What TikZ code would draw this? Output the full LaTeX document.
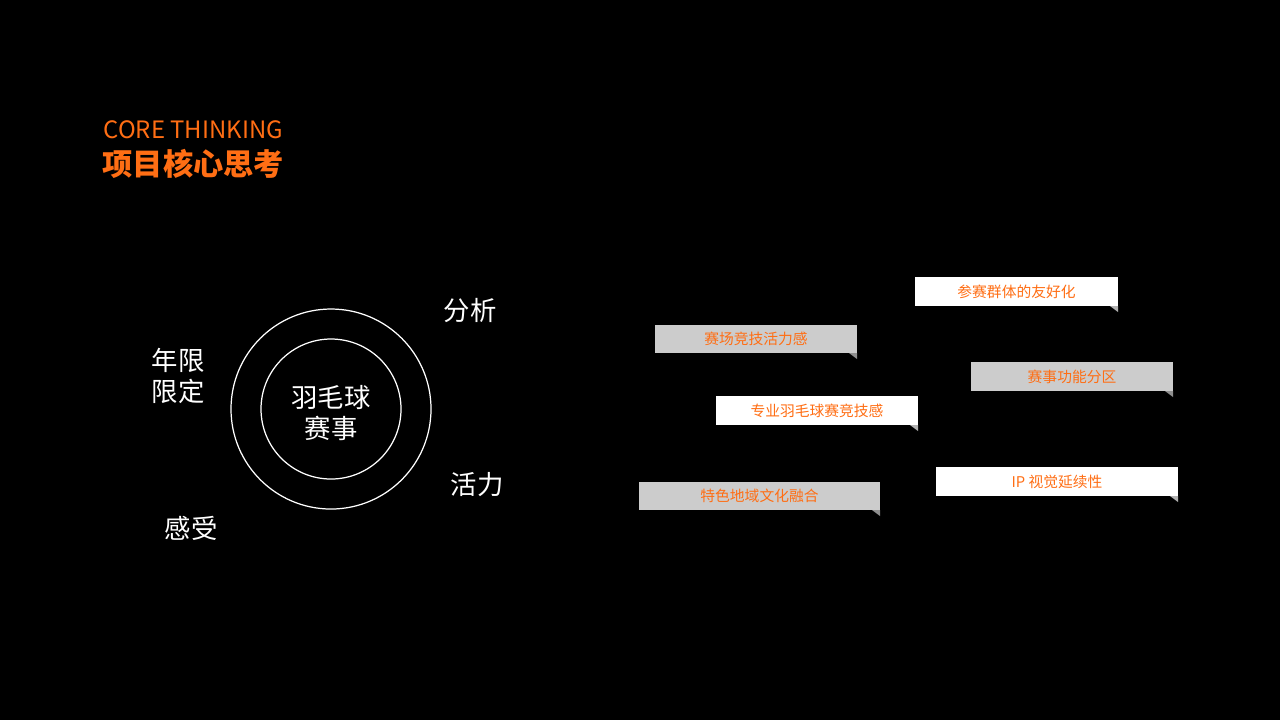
\documentclass[tikz,border=0pt]{standalone}
\usepackage{fontspec}
\setmainfont{Noto Sans CJK SC}
\usetikzlibrary{positioning}
\definecolor{accent}{RGB}{255,110,20}
\definecolor{tagGrey}{RGB}{204,204,204}
\tikzset{
  word/.style={font=\fontsize{7.5}{9}\selectfont,text=white},
  tag/.style={font=\fontsize{4.2}{5}\selectfont,text=accent,inner sep=0pt}
}
% box: fill, left, top, right, bottom, name, text
\newcommand{\tagbox}[7]{
  \fill[#1] (#2,#3) rectangle (#4,#5);
  \fill[#1!70!black] (#4-8,#5) -- (#4,#5) -- (#4,#5+6) -- cycle;
  \node[tag] (#6) at ({(#2+#4)/2},{(#3+#5)/2}) {#7};
}
\begin{document}
\begin{tikzpicture}[x=0.01cm,y=-0.01cm]
\fill[black] (0,0) rectangle (1280,720);
\useasboundingbox (0,0) rectangle (1280,720);

\node[anchor=west,text=accent,font=\fontsize{6.8}{8}\selectfont,inner sep=0pt] (en) at (103,130) {CORE THINKING};
\node[anchor=west,text=accent,font=\fontsize{8.6}{10}\selectfont\bfseries,inner sep=0pt] (cn) at (102,164) {项目核心思考};

\draw[white,line width=0.35pt] (331,409) circle (100);
\draw[white,line width=0.35pt] (331,409) circle (70);
\node[word,align=center] (core) at (331,413) {羽毛球\\赛事};
\node[word,align=center] (limit) at (178,376) {年限\\限定};
\node[word] (ana) at (470,310) {分析};
\node[word] (vit) at (477,485) {活力};
\node[word] (feel) at (191,528) {感受};

\tagbox{white}{915}{277}{1118}{306}{t1}{参赛群体的友好化}
\tagbox{tagGrey}{655}{325}{857}{353}{t2}{赛场竞技活力感}
\tagbox{tagGrey}{971}{362}{1173}{391}{t3}{赛事功能分区}
\tagbox{white}{716}{396}{918}{425}{t4}{专业羽毛球赛竞技感}
\tagbox{tagGrey}{639}{482}{880}{510}{t5}{特色地域文化融合}
\tagbox{white}{936}{467}{1178}{496}{t6}{IP 视觉延续性}
\end{tikzpicture}
\end{document}
